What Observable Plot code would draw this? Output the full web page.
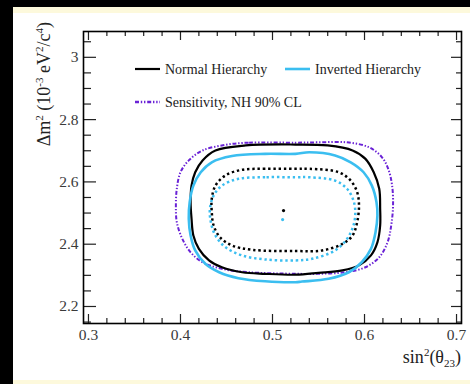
<!DOCTYPE html>
<html><head><meta charset="utf-8">
<script src="https://cdn.jsdelivr.net/npm/d3@7"></script>
<script src="https://cdn.jsdelivr.net/npm/@observablehq/plot@0.6"></script>
<style>
body{margin:0;background:#000;}
#wrap{position:relative;width:470px;height:384px;overflow:hidden;background:#000;}
#yel{position:absolute;left:13px;top:7px;width:457px;height:377px;background:#fdf9dc;}
#paper{position:absolute;left:13px;top:13px;width:457px;height:367px;background:#fff;}
#chart{position:absolute;left:0;top:0;}
</style></head><body>
<div id="wrap"><div id="yel"></div><div id="paper"></div><div id="chart"></div></div>
<script>
// Normal hierarchy, 90% CL (solid black)
const nh90X = [0.525,0.471,0.438,0.424,0.416,0.412,0.411,0.412,0.414,0.420,0.431,0.445,0.467,0.492,0.525,0.550,0.576,0.594,0.607,0.614,0.617,0.617,0.616,0.610,0.601,0.587,0.560];
const nh90Y = [2.720,2.717,2.701,2.669,2.631,2.588,2.535,2.482,2.428,2.385,2.348,2.326,2.310,2.305,2.302,2.308,2.316,2.332,2.364,2.406,2.460,2.514,2.578,2.631,2.674,2.701,2.717];
// Inverted hierarchy, 90% CL (solid cyan)
const ih90X = [0.525,0.492,0.456,0.434,0.422,0.414,0.410,0.409,0.411,0.416,0.427,0.442,0.463,0.492,0.525,0.532,0.561,0.583,0.597,0.607,0.612,0.614,0.613,0.608,0.599,0.585,0.568,0.540];
const ih90Y = [2.690,2.690,2.683,2.663,2.631,2.588,2.535,2.482,2.428,2.380,2.337,2.310,2.291,2.281,2.278,2.280,2.289,2.310,2.342,2.385,2.439,2.492,2.535,2.588,2.631,2.663,2.685,2.695];
// Sensitivity, NH 90% CL (purple dash-dot)
const sensX = [0.525,0.474,0.449,0.424,0.409,0.400,0.396,0.395,0.396,0.402,0.411,0.424,0.445,0.474,0.525,0.550,0.579,0.601,0.616,0.625,0.629,0.631,0.630,0.626,0.619,0.605,0.581,0.550];
const sensY = [2.726,2.726,2.719,2.701,2.669,2.631,2.578,2.524,2.471,2.417,2.374,2.342,2.321,2.310,2.305,2.305,2.310,2.326,2.358,2.406,2.460,2.524,2.588,2.640,2.679,2.711,2.727,2.727];
// Normal hierarchy, 68% CL (dotted black)
const nh68X = [0.525,0.492,0.467,0.449,0.438,0.434,0.434,0.436,0.443,0.456,0.478,0.525,0.554,0.576,0.587,0.592,0.594,0.592,0.585,0.572,0.540];
const nh68Y = [2.642,2.642,2.639,2.621,2.588,2.546,2.503,2.460,2.422,2.396,2.382,2.378,2.380,2.401,2.428,2.471,2.524,2.567,2.604,2.631,2.642];
// Inverted hierarchy, 68% CL (dotted cyan)
const ih68X = [0.525,0.492,0.463,0.445,0.436,0.432,0.433,0.438,0.449,0.467,0.492,0.525,0.543,0.568,0.581,0.588,0.590,0.588,0.581,0.568,0.540];
const ih68Y = [2.615,2.615,2.610,2.588,2.556,2.514,2.471,2.428,2.390,2.364,2.351,2.348,2.353,2.380,2.417,2.460,2.503,2.540,2.578,2.604,2.615];
// Best-fit points
const bestX = [0.512, 0.511];
const bestY = [2.508, 2.479];
const bestHier = ["NH", "IH"];

// Axis ticks
const xMajor = [0.3,0.4,0.5,0.6,0.7];
const xMinor = [0.32,0.34,0.36,0.38,0.42,0.44,0.46,0.48,0.52,0.54,0.56,0.58,0.62,0.64,0.66,0.68];
const yMajor = [2.2,2.4,2.6,2.8,3.0];
const yMinor = [2.15,2.25,2.3,2.35,2.45,2.5,2.55,2.65,2.7,2.75,2.85,2.9,2.95,3.05];
const xDomain = [0.2946, 0.7054];
const yDomain = [2.1454, 3.0829];

const BLACK = "#000000", CYAN = "#3bbef0", PURPLE = "#6a22d6";

const pts = (xs, ys) => xs.map((x, i) => ({x, y: ys[i]}));
const best = bestX.map((x, i) => ({x, y: bestY[i], h: bestHier[i]}));

const serif = "'Liberation Serif', 'DejaVu Serif', serif";
const lineOpts = {x: "x", y: "y", curve: "catmull-rom-closed", strokeLinecap: "butt", strokeLinejoin: "round"};

const plot = Plot.plot({
  width: 470, height: 384,
  marginLeft: 83, marginRight: 9, marginTop: 31, marginBottom: 61,
  style: {background: "transparent", fontFamily: serif, fontSize: "15.5px", color: "#222"},
  x: {domain: xDomain, axis: null},
  y: {domain: yDomain, axis: null},
  marks: [
    Plot.line(pts(sensX, sensY), {...lineOpts, stroke: PURPLE, strokeWidth: 2, strokeDasharray: "4,1.8,1.4,1.8,1.4,1.8"}),
    Plot.line(pts(nh90X, nh90Y), {...lineOpts, stroke: BLACK, strokeWidth: 2.2}),
    Plot.line(pts(ih90X, ih90Y), {...lineOpts, stroke: CYAN, strokeWidth: 2.6}),
    Plot.line(pts(nh68X, nh68Y), {...lineOpts, stroke: BLACK, strokeWidth: 2.5, strokeDasharray: "2.4,2.8"}),
    Plot.line(pts(ih68X, ih68Y), {...lineOpts, stroke: CYAN, strokeWidth: 2.5, strokeDasharray: "2.4,2.8"}),
    Plot.dot(best, {x: "x", y: "y", r: 1.6, fill: d => d.h === "NH" ? BLACK : CYAN, stroke: null}),
    // inward ticks
    Plot.axisX(xMajor, {anchor: "bottom", tickSize: -9, fill: "none", label: null, strokeWidth: 1.2}),
    Plot.axisX(xMinor, {anchor: "bottom", tickSize: -5, fill: "none", label: null, strokeWidth: 1.2}),
    Plot.axisX(xMajor, {anchor: "top", tickSize: -8, fill: "none", label: null, strokeWidth: 1.2}),
    Plot.axisX(xMinor, {anchor: "top", tickSize: -4, fill: "none", label: null, strokeWidth: 1.2}),
    Plot.axisY(yMajor, {anchor: "left", tickSize: -13, fill: "none", label: null, strokeWidth: 1.2}),
    Plot.axisY(yMinor, {anchor: "left", tickSize: -8, fill: "none", label: null, strokeWidth: 1.2}),
    Plot.axisY(yMajor, {anchor: "right", tickSize: -11, fill: "none", label: null, strokeWidth: 1.2}),
    Plot.axisY(yMinor, {anchor: "right", tickSize: -6, fill: "none", label: null, strokeWidth: 1.2}),
    // tick labels
    Plot.axisX(xMajor, {anchor: "bottom", tickSize: 0, tickPadding: 5, label: null, tickFormat: d => String(d), fill: "#3a3a3a"}),
    Plot.axisY(yMajor, {anchor: "left", tickSize: 0, tickPadding: 5, label: null, tickFormat: d => String(d), fill: "#3a3a3a"}),
    Plot.frame({stroke: "#000", strokeWidth: 1.6})
  ]
});
document.getElementById("chart").appendChild(plot);

const svg = d3.select(plot);
svg.selectAll("text")
  .style("font-size", "15.5px").style("font-family", serif);

// axis titles
const yt = svg.append("text")
  .attr("transform", "translate(50,22) rotate(-90)")
  .attr("text-anchor", "end")
  .attr("font-family", serif).attr("font-size", 18).attr("fill", "#222");
yt.append("tspan").text("Δm");
yt.append("tspan").attr("font-size", 11).attr("dy", -7).text("2");
yt.append("tspan").attr("dy", 7).text(" (10");
yt.append("tspan").attr("font-size", 11).attr("dy", -7).text("-3");
yt.append("tspan").attr("dy", 7).text(" eV");
yt.append("tspan").attr("font-size", 11).attr("dy", -7).text("2");
yt.append("tspan").attr("dy", 7).text("/c");
yt.append("tspan").attr("font-size", 11).attr("dy", -7).text("4");
yt.append("tspan").attr("dy", 7).text(")");

const xt = svg.append("text")
  .attr("x", 461).attr("y", 363)
  .attr("text-anchor", "end")
  .attr("font-family", serif).attr("font-size", 18).attr("fill", "#222");
xt.append("tspan").text("sin");
xt.append("tspan").attr("font-size", 11).attr("dy", -7).text("2");
xt.append("tspan").attr("dy", 7).text("(θ");
xt.append("tspan").attr("font-size", 11).attr("dy", 4).text("23");
xt.append("tspan").attr("dy", -4).text(")");

// legend
const legend = [
  {label: "Normal Hierarchy", color: BLACK, dash: null, w: 2.2, x: 135, y: 69},
  {label: "Inverted Hierarchy", color: CYAN, dash: null, w: 2.6, x: 285, y: 69},
  {label: "Sensitivity, NH 90% CL", color: PURPLE, dash: "4,1.8,1.4,1.8,1.4,1.8", w: 2.4, x: 135, y: 102}
];
const lg = svg.append("g");
legend.forEach(e => {
  lg.append("line").attr("x1", e.x).attr("x2", e.x + 25).attr("y1", e.y).attr("y2", e.y)
    .attr("stroke", e.color).attr("stroke-width", e.w).attr("stroke-dasharray", e.dash);
  lg.append("text").attr("x", e.x + 30).attr("y", e.y + 4.5)
    .attr("text-anchor", "start")
    .attr("font-family", serif).attr("font-size", 14).attr("fill", "#222").text(e.label);
});
</script>
</body></html>
